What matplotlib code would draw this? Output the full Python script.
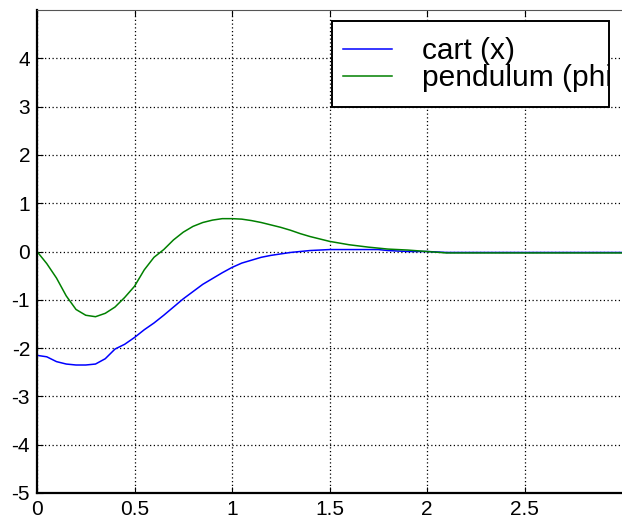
import numpy as np
import matplotlib.pyplot as plt
from matplotlib.patches import Rectangle
from matplotlib.transforms import Bbox, TransformedBbox

plt.rcParams['font.family'] = ['Liberation Sans', 'DejaVu Sans']
plt.rcParams['axes.unicode_minus'] = False

# time samples [s]
t = [0.0, 0.05, 0.1, 0.15, 0.2, 0.25, 0.3, 0.35, 0.4, 0.45, 0.5, 0.55,
     0.6, 0.65, 0.7, 0.75, 0.8, 0.85, 0.9, 0.95, 1.0, 1.05, 1.1, 1.15,
     1.2, 1.25, 1.3, 1.35, 1.4, 1.45, 1.5, 1.6, 1.7, 1.75, 1.8, 1.9,
     2.0, 2.1, 2.5, 3.0]

# cart position (x)
cart = [-2.15, -2.18, -2.28, -2.33, -2.35, -2.35, -2.33, -2.22, -2.02,
        -1.92, -1.78, -1.62, -1.48, -1.32, -1.15, -0.98, -0.83, -0.68,
        -0.56, -0.44, -0.33, -0.24, -0.18, -0.12, -0.08, -0.05, -0.02,
        0.0, 0.02, 0.03, 0.04, 0.04, 0.04, 0.04, 0.02, 0.0,
        0.0, -0.02, -0.02, -0.02]

# pendulum angle (phi)
pend = [0.0, -0.25, -0.55, -0.92, -1.2, -1.32, -1.35, -1.28, -1.15, -0.95,
        -0.72, -0.38, -0.12, 0.04, 0.24, 0.4, 0.52, 0.6, 0.65, 0.68,
        0.68, 0.67, 0.64, 0.6, 0.55, 0.5, 0.44, 0.37, 0.31, 0.26,
        0.21, 0.14, 0.09, 0.07, 0.05, 0.03,
        0.0, -0.03, -0.03, -0.03]

xticks = [0, 0.5, 1, 1.5, 2, 2.5]
xticklabels = ['0', '0.5', '1', '1.5', '2', '2.5']
yticks = [-5, -4, -3, -2, -1, 0, 1, 2, 3, 4]

fig = plt.figure(figsize=(6.22, 5.22), dpi=100)
ax = fig.add_axes([37/622, 29/522, 1 - 37/622, (493 - 10)/522])

ax.plot(t, cart, color='#0000ff', lw=1.1, label='cart (x)')
ax.plot(t, pend, color='#008000', lw=1.1, label='pendulum (phi)')

ax.set_xlim(0, 3)
ax.set_ylim(-5, 5)
ax.set_xticks(xticks)
ax.set_xticklabels(xticklabels)
ax.set_yticks(yticks)
ax.tick_params(labelsize=15, direction='in', length=4, width=0.8, pad=5,
               top=True)
ax.grid(True, color='black', linestyle=(0, (1, 2)), linewidth=0.9)
ax.spines['right'].set_visible(False)
ax.spines['left'].set_linewidth(1.6)
ax.spines['bottom'].set_linewidth(1.6)
ax.spines['top'].set_linewidth(0.8)
ax.spines['top'].set_color('#555555')

# legend box (MATLAB style, text clipped by the box)
bx0, bx1 = 332/622, 609/622
by0, by1 = 1 - 107/522, 1 - 21/522
box = Rectangle((bx0, by0), bx1 - bx0, by1 - by0, transform=fig.transFigure,
                facecolor='white', edgecolor='black', lw=1.4, zorder=4.5)
ax.add_patch(box)

leg = ax.legend(loc='upper left', bbox_to_anchor=(343/622, 1 - 37/522),
                bbox_transform=fig.transFigure, frameon=False,
                fontsize=21.5, borderpad=0, borderaxespad=0,
                handlelength=1.65, handletextpad=1.0, labelspacing=-0.03)
leg.set_zorder(5)
clip = TransformedBbox(Bbox([[bx0, by0], [bx1, by1]]), fig.transFigure)
for txt in leg.get_texts():
    txt.set_clip_box(clip)
    txt.set_clip_on(True)

fig.savefig('out.png', dpi=100)
